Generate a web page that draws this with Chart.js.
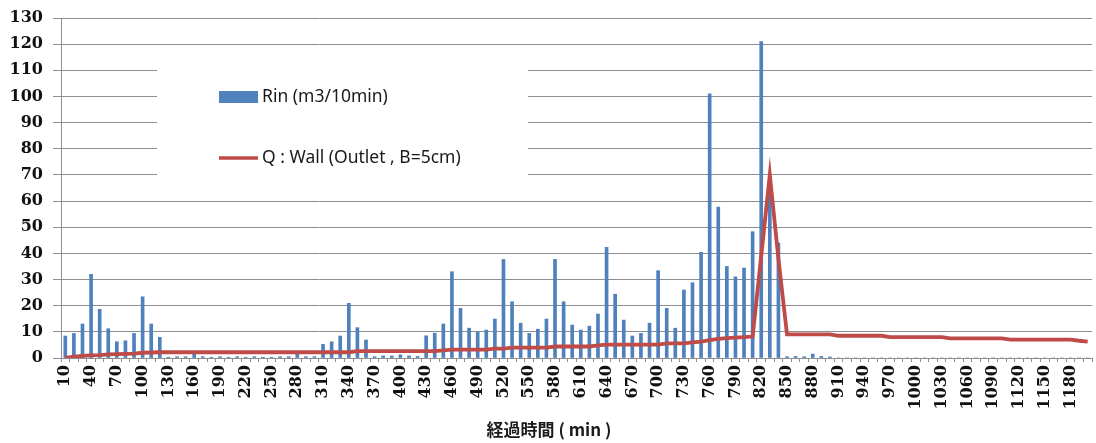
<!DOCTYPE html>
<html>
<head>
<meta charset="utf-8">
<script src="https://cdn.jsdelivr.net/npm/chart.js@4/dist/chart.umd.min.js"></script>
<style>
  html, body { margin: 0; padding: 0; background: #fff; }
  #wrap { width: 1096px; height: 443px; position: relative; }
</style>
</head>
<body>
<div id="wrap"><canvas id="c" width="1096" height="443"></canvas></div>
<script>
// Elapsed time (min), every 10 minutes from 10 to 1200
const categories = [
  10, 20, 30, 40, 50, 60, 70, 80, 90, 100,
  110, 120, 130, 140, 150, 160, 170, 180, 190, 200,
  210, 220, 230, 240, 250, 260, 270, 280, 290, 300,
  310, 320, 330, 340, 350, 360, 370, 380, 390, 400,
  410, 420, 430, 440, 450, 460, 470, 480, 490, 500,
  510, 520, 530, 540, 550, 560, 570, 580, 590, 600,
  610, 620, 630, 640, 650, 660, 670, 680, 690, 700,
  710, 720, 730, 740, 750, 760, 770, 780, 790, 800,
  810, 820, 830, 840, 850, 860, 870, 880, 890, 900,
  910, 920, 930, 940, 950, 960, 970, 980, 990, 1000,
  1010, 1020, 1030, 1040, 1050, 1060, 1070, 1080, 1090, 1100,
  1110, 1120, 1130, 1140, 1150, 1160, 1170, 1180, 1190, 1200
];

// Inflow per 10 minutes (m3/10min)
const rinValues = [
  8.4, 9.4, 13, 32, 18.6, 11.2, 6.2, 6.6, 9.4, 23.4,
  13, 7.9, 0.3, 0.5, 0.5, 2.5, 0.5, 0.3, 0.5, 0.3,
  0.5, 0.3, 0.5, 0.3, 0.3, 0.5, 0.5, 2.5, 0.5, 0.5,
  5.2, 6.2, 8.4, 20.9, 11.6, 6.9, 0.5, 0.8, 0.8, 1.2,
  0.8, 0.6, 8.5, 9.5, 13, 33, 19, 11.4, 10, 10.7,
  14.9, 37.7, 21.5, 13.3, 9.4, 11, 14.9, 37.7, 21.5, 12.6,
  10.7, 12.2, 16.8, 42.3, 24.4, 14.5, 8.4, 9.4, 13.3, 33.4,
  19, 11.4, 26, 28.8, 40.4, 101, 57.7, 35, 31, 34.4,
  48.3, 121, 66, 44, 0.5, 0.6, 0.5, 1.5, 0.6, 0.4,
  0, 0, 0, 0, 0, 0, 0, 0, 0, 0,
  0, 0, 0, 0, 0, 0, 0, 0, 0, 0,
  0, 0, 0, 0, 0, 0, 0, 0, 0, 0
];

// Outflow through the wall outlet (B=5cm)
const qWallValues = [
  0, 0.5, 0.8, 1.0, 1.1, 1.4, 1.5, 1.6, 1.7, 2.0,
  2.1, 2.2, 2.2, 2.2, 2.2, 2.2, 2.2, 2.2, 2.2, 2.2,
  2.2, 2.2, 2.2, 2.2, 2.2, 2.2, 2.2, 2.2, 2.2, 2.2,
  2.2, 2.2, 2.2, 2.2, 2.6, 2.6, 2.6, 2.6, 2.6, 2.6,
  2.6, 2.6, 2.6, 2.6, 2.9, 3.2, 3.2, 3.2, 3.2, 3.2,
  3.6, 3.6, 4.0, 4.0, 4.0, 4.0, 4.0, 4.4, 4.4, 4.4,
  4.4, 4.4, 4.8, 5.1, 5.1, 5.1, 5.1, 5.1, 5.1, 5.1,
  5.6, 5.6, 5.6, 6.0, 6.3, 6.8, 7.3, 7.6, 7.8, 8.0,
  8.2, 39, 70, 38, 9.0, 9.0, 9.0, 9.0, 9.0, 9.0,
  8.5, 8.5, 8.5, 8.5, 8.5, 8.5, 8.0, 8.0, 8.0, 8.0,
  8.0, 8.0, 8.0, 7.5, 7.5, 7.5, 7.5, 7.5, 7.5, 7.5,
  7.0, 7.0, 7.0, 7.0, 7.0, 7.0, 7.0, 7.0, 6.6, 6.3
];

const yTicks = [0, 10, 20, 30, 40, 50, 60, 70, 80, 90, 100, 110, 120, 130];

const seriesNames = ['Rin (m3/10min)', 'Q : Wall (Outlet , B=5cm)'];
const xTitle = '経過時間 ( min )';

const BAR_BLUE = '#4F81BD';
const LINE_RED = '#BE4B48';
const GRID = '#8e8e8e';
const TICK_FONT = { family: '"DejaVu Serif", serif', size: 16, weight: 'bold' };

// Legend drawn on a white panel inside the plot area
const boxLegend = {
  id: 'boxLegend',
  beforeDatasetsDraw(chart) {
    const ctx = chart.ctx;
    ctx.save();
    ctx.fillStyle = '#ffffff';
    ctx.fillRect(157, 52, 371, 138);
    ctx.restore();
  },
  afterDraw(chart) {
    const ctx = chart.ctx;
    const ds = chart.data.datasets;
    ctx.save();
    ctx.font = '17.5px "Noto Sans", sans-serif';
    ctx.textBaseline = 'middle';
    // bar series
    const bar = ds.find(d => d.type !== 'line');
    ctx.fillStyle = bar.backgroundColor;
    ctx.fillRect(219, 91, 39, 12);
    ctx.fillStyle = '#1a1a1a';
    ctx.fillText(bar.label, 262, 97);
    // line series
    const line = ds.find(d => d.type === 'line');
    ctx.strokeStyle = line.borderColor;
    ctx.lineWidth = 3.5;
    ctx.beginPath();
    ctx.moveTo(219, 158);
    ctx.lineTo(258, 158);
    ctx.stroke();
    ctx.fillText(line.label, 262, 158);
    // x-axis title
    ctx.font = 'bold 17px "Noto Sans CJK JP", sans-serif';
    ctx.textAlign = 'center';
    ctx.fillText(xTitle, 549, 430);
    ctx.restore();
  }
};

new Chart(document.getElementById('c'), {
  type: 'bar',
  data: {
    labels: categories.map(String),
    datasets: [
      {
        type: 'line',
        label: seriesNames[1],
        data: qWallValues,
        borderColor: LINE_RED,
        backgroundColor: LINE_RED,
        borderWidth: 3.8,
        pointRadius: 0,
        tension: 0,
        order: 0
      },
      {
        type: 'bar',
        label: seriesNames[0],
        data: rinValues,
        backgroundColor: BAR_BLUE,
        borderWidth: 0,
        barThickness: 3,
        order: 1
      }
    ]
  },
  options: {
    responsive: false,
    animation: false,
    devicePixelRatio: 1,
    layout: { padding: { top: 18, right: 4, left: 0, bottom: 0 } },
    plugins: {
      legend: { display: false },
      tooltip: { enabled: false }
    },
    scales: {
      x: {
        offset: true,
        grid: {
          display: true,
          drawOnChartArea: false,
          drawTicks: true,
          tickLength: 4,
          color: GRID,
          offset: true
        },
        border: { display: true, color: GRID, width: 1 },
        ticks: {
          autoSkip: false,
          maxRotation: 90,
          minRotation: 90,
          padding: 3,
          color: '#111',
          font: TICK_FONT,
          callback: function (value, index) {
            return index % 3 === 0 ? String(categories[index]) : '';
          }
        },
        afterFit(scale) {
          scale.height = 85;
          scale.paddingLeft = 0;
          scale.paddingRight = 0;
        }
      },
      y: {
        min: 0,
        max: 130,
        afterBuildTicks(scale) {
          scale.ticks = yTicks.map(v => ({ value: v }));
        },
        grid: {
          color: GRID,
          lineWidth: 1,
          drawTicks: true,
          tickLength: 8
        },
        border: { display: true, color: GRID, width: 1 },
        ticks: {
          padding: 10,
          color: '#111',
          font: TICK_FONT
        },
        afterFit(scale) {
          scale.width = 61;
          scale.paddingTop = 0;
          scale.paddingBottom = 0;
        }
      }
    }
  },
  plugins: [boxLegend]
});
</script>
</body>
</html>
